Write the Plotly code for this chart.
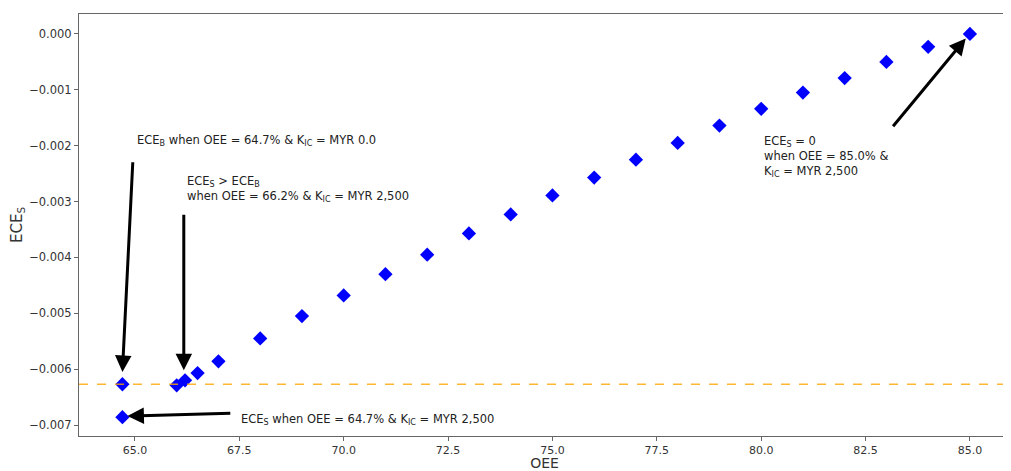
import plotly.graph_objects as go

oee = [64.7, 64.7, 66.0, 66.2, 66.5, 67, 68, 69, 70, 71, 72, 73, 74, 75, 76, 77, 78, 79, 80, 81, 82, 83, 84, 85]
ece_s = [-0.00627, -0.00686, -0.00629, -0.00620, -0.00607, -0.00586, -0.00545, -0.00505, -0.00468, -0.00430,
         -0.00395, -0.00357, -0.00323, -0.00289, -0.00257, -0.00225, -0.00195, -0.00164, -0.00134, -0.00105,
         -0.00079, -0.00050, -0.00023, 0.0]
ece_b = -0.00627

x_ticks = [65.0, 67.5, 70.0, 72.5, 75.0, 77.5, 80.0, 82.5, 85.0]
y_ticks = [0.0, -0.001, -0.002, -0.003, -0.004, -0.005, -0.006, -0.007]

# arrows: (head_x, head_y, tail_x, tail_y)
arrows = [
    (64.70, -0.00605, 64.95, -0.00227),
    (66.17, -0.00602, 66.17, -0.00321),
    (64.82, -0.00684, 67.32, -0.00679),
    (84.90, -0.00008, 83.13, -0.00168),
]
# labels: (x_left, y_center, text)
labels = [
    (65.0, -0.00191, "ECE<sub>B</sub> when OEE = 64.7% &amp; K<sub>IC</sub> = MYR 0.0"),
    (66.2, -0.00278, "ECE<sub>S</sub> &gt; ECE<sub>B</sub><br>when OEE = 66.2% &amp; K<sub>IC</sub> = MYR 2,500"),
    (67.5, -0.00690, "ECE<sub>S</sub> when OEE = 64.7% &amp; K<sub>IC</sub> = MYR 2,500"),
    (80.03, -0.00219, "ECE<sub>S</sub> = 0<br>when OEE = 85.0% &amp;<br>K<sub>IC</sub> = MYR 2,500"),
]

fig = go.Figure()
fig.add_trace(go.Scatter(x=oee, y=ece_s, mode="markers",
                         marker=dict(symbol="diamond", size=11, color="#0000ff"),
                         showlegend=False))

fig.add_shape(type="line", xref="paper", x0=0, x1=1, yref="y", y0=ece_b, y1=ece_b,
              line=dict(color="rgba(255,165,0,0.8)", width=1.5, dash="dash"))

ann = []
for hx, hy, tx, ty in arrows:
    ann.append(dict(x=hx, y=hy, ax=tx, ay=ty, xref="x", yref="y", axref="x", ayref="y",
                    showarrow=True, arrowhead=2, arrowsize=1.1, arrowwidth=3, arrowcolor="black",
                    text=""))
for lx, ly, t in labels:
    ann.append(dict(x=lx, y=ly, xref="x", yref="y", text=t, showarrow=False,
                    xanchor="left", yanchor="middle", align="left",
                    font=dict(family="DejaVu Sans", size=11.5, color="#222222")))

# page body has an 8px margin, so the figure is offset by 8px
fig.update_layout(
    width=1003, height=463,
    margin=dict(l=71, r=1, t=6, b=35),
    paper_bgcolor="white", plot_bgcolor="white",
    font=dict(family="DejaVu Sans", color="#333333"),
    annotations=ann,
    xaxis=dict(range=[63.66, 85.96], tickvals=x_ticks, ticktext=[f"{v:.1f}" for v in x_ticks],
               showgrid=False, zeroline=False, showline=True, linecolor="#666666", linewidth=1,
               mirror=True, ticks="outside", ticklen=4, tickcolor="#666666",
               tickfont=dict(size=11, color="#333333"),
               title=dict(text="OEE", font=dict(size=14, color="#333333"), standoff=4)),
    yaxis=dict(range=[-0.0071964, 0.000357], tickvals=y_ticks,
               ticktext=[("\u2212" if v < 0 else "") + f"{abs(v):.3f}" for v in y_ticks],
               showgrid=False, zeroline=False, showline=True, linecolor="#666666", linewidth=1,
               mirror=True, ticks="outside", ticklen=4, tickcolor="#666666",
               tickfont=dict(size=11.5, color="#333333"),
               title=dict(text="ECE<sub>S</sub>", font=dict(size=15, color="#333333"), standoff=8)),
)

fig.write_html("out.html")
